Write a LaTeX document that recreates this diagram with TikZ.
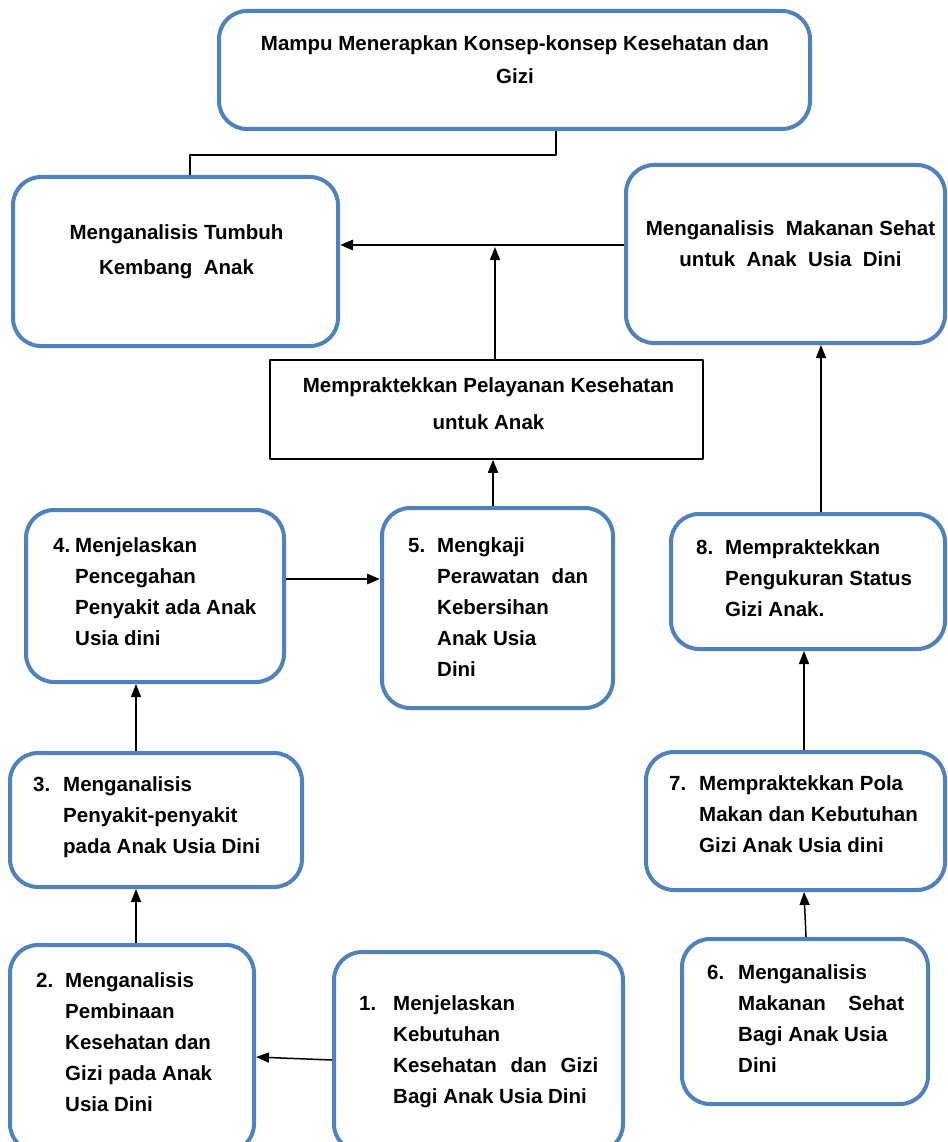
\documentclass[tikz,border=0pt]{standalone}
\usepackage{fontspec}
\setmainfont{Liberation Sans}
\usetikzlibrary{arrows.meta}
\definecolor{biru}{RGB}{79,129,189}
\newcommand{\nomor}[3]{\makebox[#1][l]{#2}\begin{tabular}[t]{@{}l@{}}#3\end{tabular}}
\newcommand{\tengah}[1]{\begin{tabular}[t]{@{}c@{}}#1\end{tabular}}

\begin{document}
\begin{tikzpicture}[x=1pt,y=-1pt,>={Triangle[length=13pt,width=10pt]},line join=round,
	kotak/.style={draw=biru,line width=4pt,rounded corners=28pt,inner sep=0pt},
	teks/.style={inner sep=0pt,font=\fontsize{20.5}{31}\selectfont\bfseries},
	panah/.style={->,line width=1.5pt},
	panahtebal/.style={->,line width=2.8pt}]
	\useasboundingbox (0,0) rectangle (947,1142);
	\clip (0,0) rectangle (947,1142);
	
	% kotak-kotak
	\node[kotak,minimum width=591pt,minimum height=118pt] (puncak) at (514.5,70) {};
	\node[kotak,minimum width=325pt,minimum height=169pt] (tumbuh) at (175.5,261.5) {};
	\node[kotak,minimum width=319pt,minimum height=178pt] (makanan) at (785.5,254) {};
	\node[draw,line width=1.5pt,minimum width=433pt,minimum height=99pt] (layanan) at (486.5,409.5) {};
	\node[kotak,minimum width=258pt,minimum height=172pt] (k4) at (155,596) {};
	\node[kotak,minimum width=231pt,minimum height=200pt] (k5) at (497.5,608) {};
	\node[kotak,minimum width=274pt,minimum height=135pt] (k8) at (808,581.5) {};
	\node[kotak,minimum width=292pt,minimum height=134pt] (k3) at (156,820) {};
	\node[kotak,minimum width=299pt,minimum height=138pt] (k7) at (795.5,821) {};
	\node[kotak,minimum width=244pt,minimum height=207pt] (k2) at (132,1048.5) {};
	\node[kotak,minimum width=289pt,minimum height=200pt] (k1) at (478.5,1052) {};
	\node[kotak,minimum width=246pt,minimum height=165pt] (k6) at (805,1021.5) {};
	
	% teks
	\node[teks,anchor=base] (tpuncak) at (515,51) {\tengah{Mampu Menerapkan Konsep-konsep Kesehatan dan\\[2pt] Gizi}};
	\node[teks,anchor=base] (ttumbuh) at (176.5,239) {\tengah{Menganalisis Tumbuh\\[4pt] Kembang\ \ Anak}};
	\node[teks,anchor=base] (tmakanan) at (790.5,235) {\tengah{Menganalisis\ \ Makanan Sehat\\ untuk\ \ Anak\ \ Usia\ \ Dini}};
	\node[teks,anchor=base] (tlayanan) at (488.5,392) {\tengah{Mempraktekkan Pelayanan Kesehatan\\[6pt] untuk Anak}};
	\node[teks,anchor=base west] (t4) at (53,552) {\nomor{22pt}{4.}{Menjelaskan\\ Pencegahan\\ Penyakit ada Anak\\ Usia dini}};
	\node[teks,anchor=base west] (t5) at (408,552) {\nomor{29pt}{5.}{Mengkaji\\ \makebox[151pt][s]{Perawatan dan}\\ Kebersihan\\ Anak Usia\\ Dini}};
	\node[teks,anchor=base west] (t8) at (696,554) {\nomor{29pt}{8.}{Mempraktekkan\\ Pengukuran Status\\ Gizi Anak.}};
	\node[teks,anchor=base west] (t3) at (33,791) {\nomor{30pt}{3.}{Menganalisis\\ Penyakit-penyakit\\ pada Anak Usia Dini}};
	\node[teks,anchor=base west] (t7) at (669,790) {\nomor{30pt}{7.}{Mempraktekkan Pola\\ Makan dan Kebutuhan\\ Gizi Anak Usia dini}};
	\node[teks,anchor=base west] (t2) at (36,987) {\nomor{29pt}{2.}{Menganalisis\\ Pembinaan\\ Kesehatan dan\\ Gizi pada Anak\\ Usia Dini}};
	\node[teks,anchor=base west] (t1) at (359,1010) {\nomor{34pt}{1.}{Menjelaskan\\ Kebutuhan\\ \makebox[205pt][s]{Kesehatan dan Gizi}\\ Bagi Anak Usia Dini}};
	\node[teks,anchor=base west] (t6) at (707,979) {\nomor{31pt}{6.}{Menganalisis\\ \makebox[166pt][s]{Makanan Sehat}\\ Bagi Anak Usia\\ Dini}};
	
	% penghubung
	\coordinate (temu) at (495,247);
	\draw[line width=1.5pt] ([xshift=41.5pt]puncak.south) -- ++(0,24) -| ([xshift=14.5pt]tumbuh.north);
	\draw[panahtebal] ([yshift=9pt]makanan.west) -- ([yshift=9pt]makanan.west -| tumbuh.east);
	\draw[panah] ([xshift=8.5pt]layanan.north) -- (temu);
	\draw[panah] ([xshift=-4.5pt]k5.north) -- ([xshift=6.5pt]layanan.south);
	\draw[panah] ([xshift=13pt]k8.north) -- ([xshift=35.5pt]makanan.south);
	\draw[panah] ([xshift=8.5pt]k7.north) -- ([xshift=-4pt]k8.south);
	\draw[panah] ([xshift=1pt]k6.north) -- ([xshift=8.5pt]k7.south);
	\draw[panahtebal] ([yshift=17pt]k4.east) -- ([yshift=29pt]k5.west);
	\draw[panah] ([xshift=-20pt]k3.north) -- ([xshift=-19pt]k4.south);
	\draw[panah] ([xshift=4pt]k2.north) -- ([xshift=-20pt]k3.south);
	\draw[panah] ([yshift=-8pt]k1.west) -- ([yshift=-8.5pt]k2.east);
\end{tikzpicture}
\end{document}
